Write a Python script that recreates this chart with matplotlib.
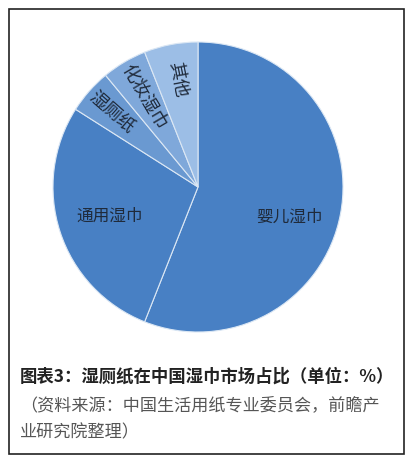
import numpy as np
import matplotlib
matplotlib.use("Agg")
from matplotlib import pyplot as plt
from matplotlib.patches import Rectangle

plt.rcParams['font.family'] = ['Noto Sans CJK SC', 'DejaVu Sans']

# market share of wet wipes in China (%)
categories = ["婴儿湿巾", "通用湿巾", "湿厕纸", "化妆湿巾", "其他"]
shares = [56, 28, 5, 5, 6]
colors = ["#4880c4", "#4880c4", "#6a99d1", "#7fa8da", "#9cbee6"]

title = "图表3：湿厕纸在中国湿巾市场占比（单位：%）"
source_lines = ["（资料来源：中国生活用纸专业委员会，前瞻产", "业研究院整理）"]

# label placement (fraction of radius) and small nudges, one per slice
label_dist = [0.64, 0.64, 0.79, 0.73, 0.76]
label_nudge = [(0, -0.08), (0, 0), (0, 0), (0, 0), (0, 0)]

W, H = 414, 460
fig = plt.figure(figsize=(W / 100, H / 100), dpi=100)

# pie centre and radius in pixels
cx, cy, r = 198, 188, 145
ax = fig.add_axes([(cx - r) / W, 1 - (cy + r) / H, 2 * r / W, 2 * r / H])
wedges, _ = ax.pie(shares, colors=colors, startangle=90, counterclock=False,
                   wedgeprops=dict(edgecolor="#dbe7f4", linewidth=0.8))
ax.set_xlim(-1, 1)
ax.set_ylim(-1, 1)
ax.set_aspect("equal")
ax.axis("off")

for w, name, dist, (nx, ny) in zip(wedges, categories, label_dist, label_nudge):
    mid = np.deg2rad((w.theta1 + w.theta2) / 2)
    small = (w.theta2 - w.theta1) < 40
    x, y = dist * np.cos(mid) + nx, dist * np.sin(mid) + ny
    rot = 0
    fs = 12
    if small:
        fs = 13
        rot = np.rad2deg(mid)
        if 90 < rot % 360 < 270:
            rot += 180
    ax.text(x, y, name, ha="center", va="center", rotation=rot,
            rotation_mode="anchor", fontsize=fs, color="#1f2a3a")

# outer frame
fig.add_artist(Rectangle((9 / W, 5 / H), 395 / W, 445 / H, transform=fig.transFigure,
                         fill=False, edgecolor="#222222", linewidth=1.2))

fig.text(20 / W, 1 - 377 / H, title, ha="left", va="center", fontsize=12.5,
         fontweight="bold", color="#222222")
fig.text(20 / W, 1 - 406 / H, source_lines[0], ha="left", va="center", fontsize=12.3,
         color="#555555")
fig.text(20 / W, 1 - 432 / H, source_lines[1], ha="left", va="center", fontsize=12.3,
         color="#555555")

plt.savefig("out.png", dpi=100)
